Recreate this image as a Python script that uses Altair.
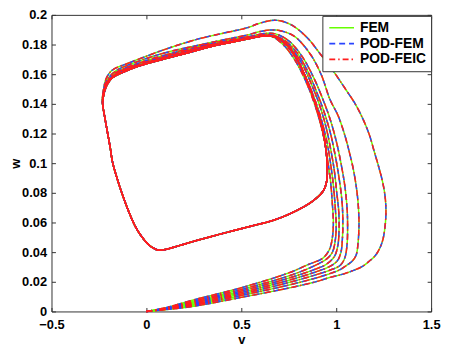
import altair as alt
import pandas as pd

# ---- traced data (v, w) ----
METHODS = ["FEM", "POD-FEM", "POD-FEIC"]
COLORS = ["#66ff00", "#2a44ff", "#ff1e1e"]
DASHES = [[1, 0], [6, 4], [6, 3, 1.5, 3]]

XT = [-0.5, 0, 0.5, 1, 1.5]
YT = [0, 0.02, 0.04, 0.06, 0.08, 0.1, 0.12, 0.14, 0.16, 0.18, 0.2]

# limit cycle (starting at left edge, going down, right, up, left)
LC_V = [-0.231, -0.218, -0.204, -0.19, -0.179, -0.155, -0.127, -0.092, -0.057, -0.022,
        0.012, 0.04, 0.064, 0.1, 0.168, 0.255, 0.35, 0.429, 0.55, 0.672,
        0.794, 0.88, 0.932, 0.95, 0.953, 0.948, 0.935, 0.915, 0.89, 0.86,
        0.825, 0.785, 0.745, 0.706, 0.66, 0.6, 0.533, 0.446, 0.35, 0.22,
        0.1, -0.04, -0.12, -0.175, -0.205, -0.222, -0.231]
LC_W = [0.141, 0.13, 0.12, 0.11, 0.101, 0.09, 0.079, 0.067, 0.057, 0.05,
        0.045, 0.0425, 0.0413, 0.0418, 0.0442, 0.0475, 0.0508, 0.0535, 0.0575, 0.0616,
        0.0682, 0.0748, 0.0814, 0.088, 0.097, 0.107, 0.118, 0.129, 0.14, 0.151,
        0.162, 0.172, 0.179, 0.1835, 0.1855, 0.1855, 0.1838, 0.1815, 0.179, 0.1745,
        0.1705, 0.1655, 0.1615, 0.158, 0.154, 0.148, 0.141]

T1_V = [0, 0.1, 0.25, 0.5, 0.75, 0.9, 0.967, 1.03, 1.088, 1.14,
        1.175, 1.205, 1.227, 1.245, 1.255, 1.262, 1.258, 1.245, 1.225, 1.2,
        1.175, 1.14, 1.1, 1.054, 0.985, 0.915, 0.846, 0.76, 0.68, 0.6,
        0.533, 0.4, 0.272, 0.12, 0.012, -0.1, -0.179, -0.212, -0.226, -0.231]
T1_W = [0, 0.0012, 0.0035, 0.0095, 0.0158, 0.0203, 0.023, 0.025, 0.0275, 0.0305,
        0.034, 0.0375, 0.042, 0.048, 0.055, 0.066, 0.077, 0.087, 0.097, 0.108,
        0.119, 0.13, 0.14, 0.149, 0.162, 0.1738, 0.1848, 0.1935, 0.1964, 0.1945,
        0.1914, 0.1875, 0.1837, 0.1777, 0.1727, 0.1672, 0.1628, 0.157, 0.149, 0.141]

T2_V = [0, 0.1, 0.25, 0.5, 0.75, 0.9, 0.966, 1.02, 1.054, 1.085,
        1.105, 1.115, 1.12, 1.118, 1.11, 1.09, 1.068, 1.045, 1.01, 0.967,
        0.92, 0.862, 0.78, 0.7, 0.654, 0.6, 0.533, 0.4, 0.272, 0.1,
        -0.04, -0.161, -0.21, -0.228, -0.231]
T2_W = [0, 0.0014, 0.0042, 0.0108, 0.0178, 0.0228, 0.0255, 0.0282, 0.031, 0.034,
        0.038, 0.046, 0.058, 0.068, 0.08, 0.096, 0.108, 0.119, 0.132, 0.143,
        0.16, 0.1738, 0.1855, 0.1895, 0.1898, 0.1888, 0.1865, 0.183, 0.1795, 0.1745,
        0.1688, 0.1622, 0.1555, 0.148, 0.141]

T3_V = [0, 0.1, 0.25, 0.5, 0.75, 0.9, 0.966, 1.02, 1.045, 1.057,
        1.06, 1.057, 1.045, 1.025, 1.0, 0.967, 0.93, 0.88, 0.82, 0.75,
        0.68, 0.63, 0.533, 0.4, 0.272, 0.1, -0.04, -0.161, -0.21, -0.228, -0.231]
T3_W = [0, 0.0016, 0.0049, 0.0118, 0.0195, 0.025, 0.0278, 0.031, 0.036, 0.045,
        0.058, 0.07, 0.085, 0.1, 0.115, 0.13, 0.143, 0.158, 0.172, 0.1825,
        0.1872, 0.1875, 0.1853, 0.1822, 0.1787, 0.173, 0.1675, 0.161, 0.154, 0.147, 0.141]

T4_V = [0, 0.1, 0.25, 0.5, 0.75, 0.9, 0.96, 1.005, 1.025, 1.033,
        1.035, 1.03, 1.015, 0.995, 0.97, 0.935, 0.9, 0.85, 0.79, 0.72,
        0.65, 0.533, 0.4, 0.272, 0.1, -0.04, -0.161, -0.208, -0.227, -0.231]
T4_W = [0, 0.0018, 0.0056, 0.0128, 0.021, 0.027, 0.030, 0.034, 0.04, 0.05,
        0.062, 0.075, 0.09, 0.105, 0.12, 0.135, 0.147, 0.162, 0.175, 0.1835,
        0.1866, 0.1847, 0.1815, 0.178, 0.1722, 0.1668, 0.1605, 0.1535, 0.146, 0.141]

T5_V = [0, 0.1, 0.25, 0.5, 0.75, 0.9, 0.95, 0.99, 1.008, 1.015,
        1.013, 1.003, 0.99, 0.97, 0.945, 0.91, 0.87, 0.82, 0.76, 0.7,
        0.646, 0.533, 0.4, 0.272, 0.1, -0.04, -0.161, -0.207, -0.227, -0.231]
T5_W = [0, 0.002, 0.0063, 0.0138, 0.0225, 0.029, 0.032, 0.037, 0.044, 0.055,
        0.068, 0.08, 0.095, 0.11, 0.125, 0.14, 0.153, 0.167, 0.178, 0.1845,
        0.1862, 0.1842, 0.1812, 0.1777, 0.1717, 0.1663, 0.1602, 0.1532, 0.146, 0.141]

T6_V = [0, 0.1, 0.25, 0.5, 0.75, 0.88, 0.95, 0.98, 0.995, 1.0,
        0.995, 0.985, 0.97, 0.95, 0.925, 0.89, 0.85, 0.8, 0.74, 0.68,
        0.64, 0.533, 0.4, 0.272, 0.1, -0.04, -0.161, -0.206, -0.226, -0.231]
T6_W = [0, 0.0022, 0.007, 0.0148, 0.024, 0.0305, 0.0355, 0.04, 0.048, 0.058,
        0.07, 0.085, 0.1, 0.115, 0.128, 0.142, 0.155, 0.168, 0.179, 0.185,
        0.186, 0.1839, 0.181, 0.1773, 0.1712, 0.166, 0.16, 0.153, 0.146, 0.141]

T7_V = [0, 0.1, 0.25, 0.5, 0.75, 0.85, 0.93, 0.965, 0.98, 0.985,
        0.98, 0.97, 0.955, 0.935, 0.91, 0.875, 0.83, 0.78, 0.72, 0.66,
        0.62, 0.533, 0.4, 0.272, 0.1, -0.04, -0.161, -0.205, -0.225, -0.231]
T7_W = [0, 0.0025, 0.0078, 0.016, 0.026, 0.0315, 0.036, 0.042, 0.05, 0.06,
        0.072, 0.088, 0.102, 0.117, 0.13, 0.144, 0.158, 0.17, 0.18, 0.1855,
        0.186, 0.1838, 0.1808, 0.177, 0.171, 0.1657, 0.1598, 0.153, 0.146, 0.141]

TRAJ = [(T1_V, T1_W), (T2_V, T2_W), (T3_V, T3_W), (T4_V, T4_W),
        (T5_V, T5_W), (T6_V, T6_W), (T7_V, T7_W)]

rows = []
for m in METHODS:
    for k, (tv, tw) in enumerate(TRAJ):
        assert len(tv) == len(tw)
        vs = tv + LC_V[1:]
        ws = tw + LC_W[1:]
        for i, (a, b) in enumerate(zip(vs, ws)):
            rows.append({"method": m, "traj": k, "i": i, "v": a, "w": b})
df = pd.DataFrame(rows)

F = "Liberation Sans"
W, H = 384, 300

xs = alt.Scale(domain=[-0.5, 1.5], nice=False, zero=False)
ys = alt.Scale(domain=[0, 0.2], nice=False, zero=False)

legend = alt.Legend(
    title=None, orient="none", legendX=274, legendY=1, direction="vertical",
    strokeColor="#333", fillColor="white", padding=5, rowPadding=2,
    symbolType="M-1,0H4", symbolSize=100, symbolStrokeWidth=1.7, labelOffset=19,
    labelFont=F, labelFontSize=14, labelFontWeight="bold", labelColor="black",
)
color = alt.Color("method:N", scale=alt.Scale(domain=METHODS, range=COLORS), legend=legend)
dash = alt.StrokeDash("method:N", scale=alt.Scale(domain=METHODS, range=DASHES), legend=legend)

lab = dict(labelFont=F, labelFontSize=13, labelFontWeight="bold", labelColor="black",
           labelFlush=False, grid=False)
tick = dict(values=XT, labels=False, ticks=True, tickSize=4, tickColor="#333",
            domain=False, grid=False, title=None)
ytick = dict(values=YT, labels=False, ticks=True, tickSize=4, tickColor="#333",
             domain=False, grid=False, title=None)

x_axes = [
    alt.Axis(orient="bottom", values=XT, format="~g", ticks=False, domain=False,
             labelPadding=7, title="v", titleFont=F, titleFontSize=13,
             titleFontWeight="bold", titleColor="black", titleBaseline="alphabetic",
             titleY=32, **lab),
    alt.Axis(orient="top", offset=-H, **tick),
    alt.Axis(orient="bottom", offset=-H, **tick),
]
y_axes = [
    alt.Axis(orient="left", values=YT, format="~g", ticks=False, domain=False,
             labelPadding=5, title="w", titleFont=F, titleFontSize=13,
             titleFontWeight="bold", titleColor="black", titleBaseline="alphabetic",
             titleX=-32, titleY=H / 2, titleAlign="center", **lab),
    alt.Axis(orient="right", offset=-W, **ytick),
    alt.Axis(orient="left", offset=-W, **ytick),
]

layers = []
for j, m in enumerate(METHODS):
    layers.append(
        alt.Chart(df).transform_filter(alt.datum.method == m)
        .mark_line(strokeWidth=1.5, interpolate="catmull-rom")
        .encode(
            x=alt.X("v:Q", scale=xs, axis=x_axes[j]),
            y=alt.Y("w:Q", scale=ys, axis=y_axes[j]),
            color=color,
            strokeDash=dash,
            detail="traj:N",
            order="i:Q",
        )
    )

chart = (
    alt.layer(*layers)
    .resolve_axis(x="independent", y="independent")
    .properties(width=W, height=H, autosize=alt.AutoSizeParams(type="none"),
                padding={"left": 44, "top": 5, "right": 10, "bottom": 34},
                background="white")
    .configure_view(stroke="#333", strokeWidth=1)
)

chart.save("out.html", embed_options={"renderer": "svg", "actions": False})
